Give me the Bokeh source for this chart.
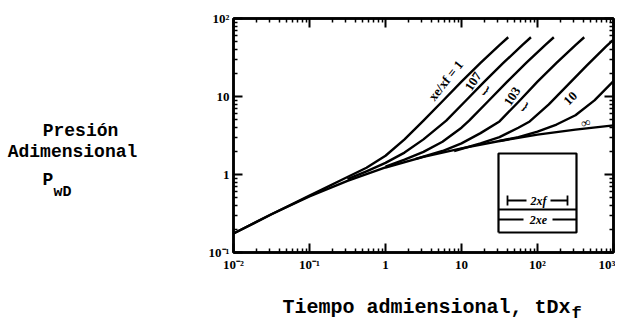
from bokeh.plotting import figure
from bokeh.models import LogAxis, FixedTicker
from bokeh.layouts import column, row
from bokeh.embed import file_html
from bokeh.resources import INLINE
from bokeh.core.properties import value

# ---- data ----
t_inf = [0.01, 0.0316, 0.1, 0.316, 1, 3.16, 10, 31.6, 100, 316, 1000]
p_inf = [0.175, 0.309, 0.525, 0.83, 1.23, 1.68, 2.16, 2.69, 3.24, 3.76, 4.27]

t_c1 = [0.01, 0.0316, 0.1, 0.316, 0.562, 1, 1.78, 3.16, 5.62, 10, 17.8, 31.6, 41.2]
p_c1 = [0.175, 0.309, 0.537, 0.93, 1.22, 1.74, 2.82, 4.9, 8.7, 15.5, 26.9, 45.7, 57.5]

t_c2 = [0.316, 0.562, 1, 1.78, 3.16, 6.3, 11.2, 20, 35.5, 63, 82]
p_c2 = [0.87, 1.10, 1.41, 1.91, 2.82, 4.9, 8.7, 15.5, 26.9, 45.7, 57.5]

t_c3 = [1, 1.78, 3.16, 5.62, 10, 12.6, 22.4, 40, 71, 126, 164]
p_c3 = [1.26, 1.55, 1.95, 2.63, 3.98, 4.9, 8.7, 15.5, 26.9, 45.7, 57.5]

t_c4 = [2.5, 5.62, 10, 17.8, 31.6, 56, 100, 178, 316, 412]
p_c4 = [1.585, 2.0, 2.51, 3.39, 4.79, 8.51, 15.5, 26.9, 45.7, 57.5]

t_c5 = [8, 17.8, 31.6, 56, 79, 141, 251, 447, 794, 1000]
p_c5 = [2.0, 2.51, 3.02, 3.98, 4.79, 7.94, 14.1, 25.1, 43.6, 53.7]

t_c6 = [31.6, 56, 100, 178, 316, 562, 1000]
p_c6 = [2.69, 3.02, 3.55, 4.37, 5.75, 8.91, 15.8]

x_ticks = [0.01, 0.1, 1, 10, 100, 1000]
x_tick_labels = ["10⁻²", "10⁻¹", "1", "10", "10²", "10³"]
y_ticks = [0.1, 1, 10, 100]
y_tick_labels = ["10⁻¹", "1", "10", "10²"]

curve_labels = ["xe/xf = 1", "107", "103", "10", "∞"]

# ---- layout geometry (pixels, page coordinates) ----
LEFT_W = 200                 # width of the left text panel
MAIN_W, MAIN_H = 415, 275    # main chart
FL, FT, FR, FB = 233, 18, 613, 252   # frame edges on the page
BOT_H = 52

p = figure(width=MAIN_W, height=MAIN_H, x_axis_type="log", y_axis_type="log",
           x_range=(0.01, 1000), y_range=(0.1, 100),
           output_backend="svg", toolbar_location=None,
           min_border_left=FL - LEFT_W, min_border_right=LEFT_W + MAIN_W - FR,
           min_border_top=FT, min_border_bottom=MAIN_H - FB)
p.grid.visible = False
p.outline_line_color = "black"
p.outline_line_width = 2.5
p.background_fill_color = "white"
p.border_fill_color = "white"

PX_DEC_X = (FR - FL) / 5.0
PX_DEC_Y = (FB - FT) / 3.0


def dx(px):
    return 10 ** (-2 + (px - FL) / PX_DEC_X)


def dy(py):
    return 10 ** (-1 + (FB - py) / PX_DEC_Y)


def minor(ticks):
    out = []
    for t in ticks[:-1]:
        for k in range(2, 10):
            out.append(t * k)
    return out


def style_axis(ax, ticks, labels, show_labels=True):
    ax.ticker = FixedTicker(ticks=ticks, minor_ticks=minor(ticks))
    ax.axis_line_width = 2.5
    ax.axis_line_color = "black"
    ax.major_tick_in = 9
    ax.major_tick_out = 0
    ax.minor_tick_in = 4
    ax.minor_tick_out = 0
    ax.major_tick_line_width = 2
    ax.minor_tick_line_width = 1.5
    ax.major_tick_line_color = "black"
    ax.minor_tick_line_color = "black"
    if show_labels:
        ax.major_label_overrides = {t: l for t, l in zip(ticks, labels)}
        ax.major_label_text_font = "Liberation Serif"
        ax.major_label_text_font_style = "bold"
        ax.major_label_text_font_size = "13px"
        ax.major_label_text_color = "black"
        ax.major_label_standoff = 4
    else:
        ax.major_label_text_font_size = "1px"
        ax.major_label_text_alpha = 0
        ax.major_label_standoff = 0


style_axis(p.xaxis[0], x_ticks, x_tick_labels)
style_axis(p.yaxis[0], y_ticks, y_tick_labels)
p.yaxis[0].major_label_orientation = "horizontal"

top = LogAxis()
style_axis(top, x_ticks, x_tick_labels, show_labels=False)
p.add_layout(top, "above")
right = LogAxis()
style_axis(right, y_ticks, y_tick_labels, show_labels=False)
p.add_layout(right, "right")

# ---- curves ----
for tt, pp in [(t_inf, p_inf), (t_c1, p_c1), (t_c2, p_c2), (t_c3, p_c3),
               (t_c4, p_c4), (t_c5, p_c5), (t_c6, p_c6)]:
    p.line(tt, pp, line_color="black", line_width=2.4, line_join="round")

# ---- curve labels ----
lab_font = value("Liberation Serif")
common = dict(text_font=lab_font, text_font_style="bold", text_align="center",
              text_baseline="middle", text_color="black")
p.text(x=[dx(445)], y=[dy(80)], text=[curve_labels[0]], angle=0.9,
       text_font_size="13px", **common)
p.text(x=[dx(473), dx(512), dx(570)], y=[dy(81), dy(96), dy(98)],
       text=curve_labels[1:4], angle=[1.0, 1.0, 0.8],
       text_font_size="13px", **common)
p.text(x=[dx(486), dx(525)], y=[dy(90), dy(106)], text=["}", "}"],
       angle=[-0.6, -0.6], text_font_size="12px", **common)
p.text(x=[dx(585)], y=[dy(122)], text=[curve_labels[4]], angle=[0.3],
       text_font_size="13px", **common)

# ---- inset schematic ----
bl, br, bt, bb = dx(498), dx(576), dy(153), dy(232)
lw = dict(line_color="black", line_width=1.8)
p.line([bl, br, br, bl, bl], [bb, bb, bt, bt, bb], line_color="black", line_width=2.2)
p.line([bl, br], [dy(209), dy(209)], **lw)
p.line([dx(507), dx(526)], [dy(200), dy(200)], **lw)
p.line([dx(550), dx(567)], [dy(200), dy(200)], **lw)
p.line([dx(507), dx(507)], [dy(195), dy(205)], **lw)
p.line([dx(567), dx(567)], [dy(195), dy(205)], **lw)
p.line([bl, dx(523)], [dy(219), dy(219)], **lw)
p.line([dx(552), br], [dy(219), dy(219)], **lw)
p.text(x=[dx(538), dx(538)], y=[dy(200), dy(219)], text=["2xf", "2xe"],
       text_font=lab_font, text_font_style="bold italic", text_font_size="12px",
       text_align="center", text_baseline="middle", text_color="black")


# ---- text panels (outside the chart frame) ----
def text_panel(w, h):
    f = figure(width=w, height=h, x_range=(0, w), y_range=(h, 0),
               output_backend="svg", toolbar_location=None,
               x_axis_location=None, y_axis_location=None,
               min_border=0, min_border_left=0, min_border_right=0,
               min_border_top=0, min_border_bottom=0)
    f.grid.visible = False
    f.outline_line_color = None
    f.background_fill_color = "white"
    f.border_fill_color = "white"
    return f


mono = value("Liberation Mono")
tcommon = dict(text_font=mono, text_font_style="bold", text_baseline="middle",
               text_color="black")

left = text_panel(LEFT_W, MAIN_H)
left.text(x=[80, 72], y=[132, 157], text=["Presión", "Adimensional"],
          text_align="center", text_font_size="18px", **tcommon)
left.text(x=[42], y=[190], text=["P"], text_align="left", text_font_size="18px", **tcommon)
left.text(x=[53], y=[205], text=["wD"], text_align="left", text_font_size="15px", **tcommon)

bottom = text_panel(LEFT_W + MAIN_W, BOT_H)
bottom.text(x=[282], y=[307 - MAIN_H], text=["Tiempo admiensional, tDx"],
            text_align="left", text_font_size="20px", **tcommon)
bottom.text(x=[571], y=[313 - MAIN_H], text=["f"],
            text_align="left", text_font_size="17px", **tcommon)

layout = column(row(left, p), bottom)
open("out.html", "w").write(file_html(layout, INLINE))
